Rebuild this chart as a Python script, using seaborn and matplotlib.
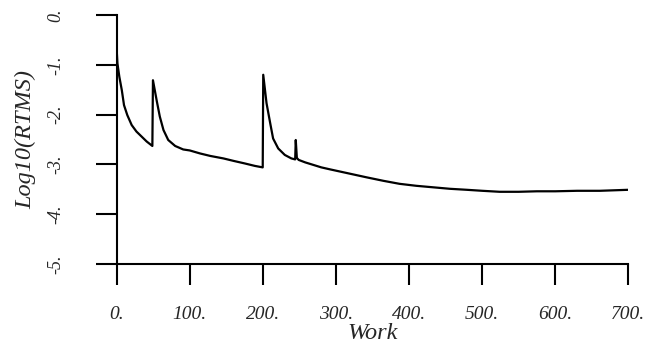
import matplotlib
matplotlib.use("Agg")
import matplotlib.pyplot as plt
import seaborn as sns
import pandas as pd

# data
work = [0, 1, 3.6, 7, 10, 14.5, 20.5, 27, 34, 41, 48.8,
        49.6, 55, 59, 64, 70.5, 80, 91,
        100, 114, 128, 146, 160, 175, 189, 199.8,
        200.5, 205, 210, 214, 221, 230, 239, 244.2,
        245, 246.5, 249, 258, 269, 280, 292, 317, 342, 365, 387, 410, 433, 456, 479,
        500, 524, 550, 575, 600, 630, 661, 700]
log_rtms = [-0.70, -0.97, -1.24, -1.51, -1.81, -2.01, -2.21, -2.34, -2.44, -2.54, -2.63,
            -1.31, -1.74, -2.04, -2.31, -2.51, -2.63, -2.70,
            -2.72, -2.78, -2.83, -2.88, -2.93, -2.98, -3.03, -3.06,
            -1.20, -1.77, -2.17, -2.48, -2.68, -2.81, -2.88, -2.90,
            -2.51, -2.87, -2.91, -2.96, -3.01, -3.06, -3.10, -3.18, -3.26, -3.33, -3.39,
            -3.43, -3.46, -3.49, -3.51,
            -3.53, -3.55, -3.55, -3.54, -3.54, -3.53, -3.53, -3.51]
x_ticks = [0, 100, 200, 300, 400, 500, 600, 700]
x_tick_labels = ["0.", "100.", "200.", "300.", "400.", "500.", "600.", "700."]
y_ticks = [0, -1, -2, -3, -4, -5]
y_tick_labels = ["0.", "-1.", "-2.", "-3.", "-4.", "-5."]

sns.set_style("ticks")
plt.rcParams["font.family"] = ["Liberation Serif", "DejaVu Serif"]
plt.rcParams["font.style"] = "italic"

df = pd.DataFrame({"Work": work, "Log10(RTMS)": log_rtms})

W, H = 648, 348
fig = plt.figure(figsize=(W / 100, H / 100), dpi=100)
x0, x1 = 116.7, 628.3
ytop, ybot = 15, 264
ax = fig.add_axes([x0 / W, (H - ybot) / H, (x1 - x0) / W, (ybot - ytop) / H])

sns.lineplot(data=df, x="Work", y="Log10(RTMS)", ax=ax, color="black",
             linewidth=1.6, estimator=None, sort=False)

ax.set_xlim(0, 700)
ax.set_ylim(-5, 0)
for s in ["top", "right"]:
    ax.spines[s].set_visible(False)
for s in ["left", "bottom"]:
    ax.spines[s].set_linewidth(1.5)
    ax.spines[s].set_color("black")

ax.set_xticks(x_ticks)
ax.set_xticklabels(x_tick_labels, fontsize=14, style="italic")
ax.set_yticks(y_ticks)
ax.set_yticklabels(y_tick_labels, fontsize=13, style="italic", rotation=90, va="center")
ax.tick_params(axis="both", direction="out", length=15, width=1.5, color="black")
ax.tick_params(axis="x", pad=15)
ax.tick_params(axis="y", pad=23)

ax.set_xlabel("Work", fontsize=17.5, style="italic", labelpad=0)
ax.set_ylabel("Log10(RTMS)", fontsize=17.5, style="italic", labelpad=8)

fig.savefig("out.png", dpi=100, facecolor="white")
